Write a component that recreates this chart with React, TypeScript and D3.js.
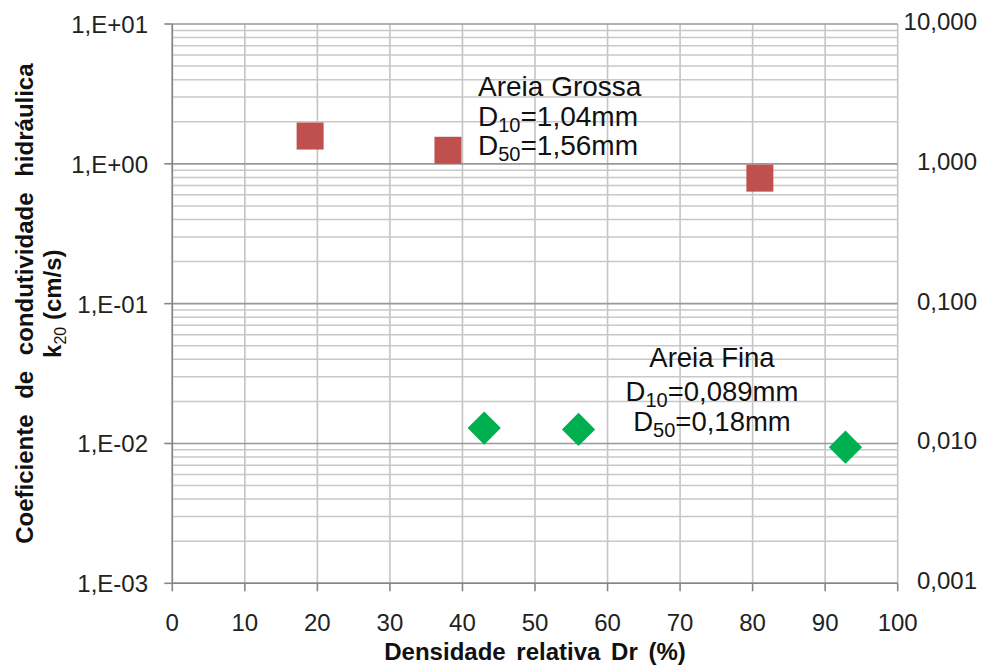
import React from "react";
import * as d3 from "d3";

const coarseDr = [19, 38, 81];
const coarseK = [1.58, 1.25, 0.79];
const fineDr = [43, 56, 92.8];
const fineK = [0.0129, 0.0126, 0.0094];
const xTicks = [0, 10, 20, 30, 40, 50, 60, 70, 80, 90, 100];
const yTicks = [10, 1, 0.1, 0.01, 0.001];
const yLeftLabels = ["1,E+01", "1,E+00", "1,E-01", "1,E-02", "1,E-03"];
const yRightLabels = ["10,000", "1,000", "0,100", "0,010", "0,001"];

const W = 982, H = 669;
const L = 172.3, R = 897.7, T = 24, B = 583.3;

export default function App() {
  const x = d3.scaleLinear().domain([0, 100]).range([L, R]);
  const y = d3.scaleLog().domain([0.001, 10]).range([B, T]);
  const minor: number[] = [];
  for (let e = -3; e < 1; e++) {
    for (let m = 2; m <= 9; m++) minor.push(m * Math.pow(10, e));
  }
  const font = "'Liberation Sans', Arial, sans-serif";
  const sq = 27;
  const dm = 23.5;
  return (
    <svg width={W} height={H} style={{ position: "absolute", left: 0, top: 0, background: "#fff" }} fontFamily={font}>
      <rect width={W} height={H} fill="#fff" />
      {xTicks.map((t) => (
        <line key={"vx" + t} x1={x(t)} x2={x(t)} y1={T} y2={B} stroke="#c4c4c4" strokeWidth={1.6} />
      ))}
      {minor.map((v, i) => (
        <line key={"mh" + i} x1={L} x2={R} y1={y(v)} y2={y(v)} stroke="#c8c8c8" strokeWidth={1.5} />
      ))}
      {yTicks.map((v) => (
        <line key={"Mh" + v} x1={L} x2={R} y1={y(v)} y2={y(v)} stroke="#999" strokeWidth={1.6} />
      ))}
      <line x1={L} x2={L} y1={T} y2={B} stroke="#868686" strokeWidth={1.6} />
      <line x1={L} x2={R} y1={B} y2={B} stroke="#868686" strokeWidth={1.6} />
      {yTicks.map((v) => (
        <line key={"yt" + v} x1={L - 8} x2={L} y1={y(v)} y2={y(v)} stroke="#868686" strokeWidth={1.6} />
      ))}
      {xTicks.map((t) => (
        <line key={"xt" + t} x1={x(t)} x2={x(t)} y1={B} y2={B + 8} stroke="#868686" strokeWidth={1.6} />
      ))}
      {yTicks.map((v, i) => (
        <text key={"yl" + v} x={148} y={y(v) + 9} textAnchor="end" fontSize={24} fill="#222">
          {yLeftLabels[i]}
        </text>
      ))}
      {yTicks.map((v, i) => (
        <text key={"yr" + v} x={977} y={y(v) + 6} textAnchor="end" fontSize={24} fill="#222">
          {yRightLabels[i]}
        </text>
      ))}
      {xTicks.map((t) => (
        <text key={"xl" + t} x={x(t)} y={631} textAnchor="middle" fontSize={24} fill="#222">
          {t}
        </text>
      ))}
      <text x={(L + R) / 2} y={660} textAnchor="middle" fontSize={24} fontWeight="bold" wordSpacing={4} fill="#111">
        Densidade relativa Dr (%)
      </text>
      <text transform={`translate(33,${(T + B) / 2}) rotate(-90)`} textAnchor="middle" fontSize={24} fontWeight="bold" wordSpacing={9} fill="#111">
        Coeficiente de condutividade hidráulica
      </text>
      <text transform={`translate(61,${(T + B) / 2}) rotate(-90)`} textAnchor="middle" fontSize={24} fontWeight="bold" fill="#111">
        <tspan>k</tspan>
        <tspan fontSize={16} fontWeight="normal" dy={5}>20</tspan>
        <tspan dy={-5}> (cm/s)</tspan>
      </text>
      {coarseDr.map((d, i) => (
        <rect key={"c" + i} x={x(d) - sq / 2} y={y(coarseK[i]) - sq / 2} width={sq} height={sq} fill="#C0504D" />
      ))}
      {fineDr.map((d, i) => (
        <rect key={"f" + i} x={-dm / 2} y={-dm / 2} width={dm} height={dm} fill="#00B050"
          transform={`translate(${x(d)},${y(fineK[i])}) rotate(45)`} />
      ))}
      <g fontSize={28} fill="#111">
        <text x={478} y={96}>Areia Grossa</text>
        <text x={478} y={126}>
          D<tspan fontSize={20} dy={6}>10</tspan><tspan dy={-6}>=1,04mm</tspan>
        </text>
        <text x={478} y={155}>
          D<tspan fontSize={20} dy={6}>50</tspan><tspan dy={-6}>=1,56mm</tspan>
        </text>
      </g>
      <g fontSize={27.5} fill="#111" textAnchor="middle">
        <text x={712} y={367}>Areia Fina</text>
        <text x={712} y={401}>
          D<tspan fontSize={20} dy={6}>10</tspan><tspan dy={-6}>=0,089mm</tspan>
        </text>
        <text x={712} y={431}>
          D<tspan fontSize={20} dy={6}>50</tspan><tspan dy={-6}>=0,18mm</tspan>
        </text>
      </g>
    </svg>
  );
}
